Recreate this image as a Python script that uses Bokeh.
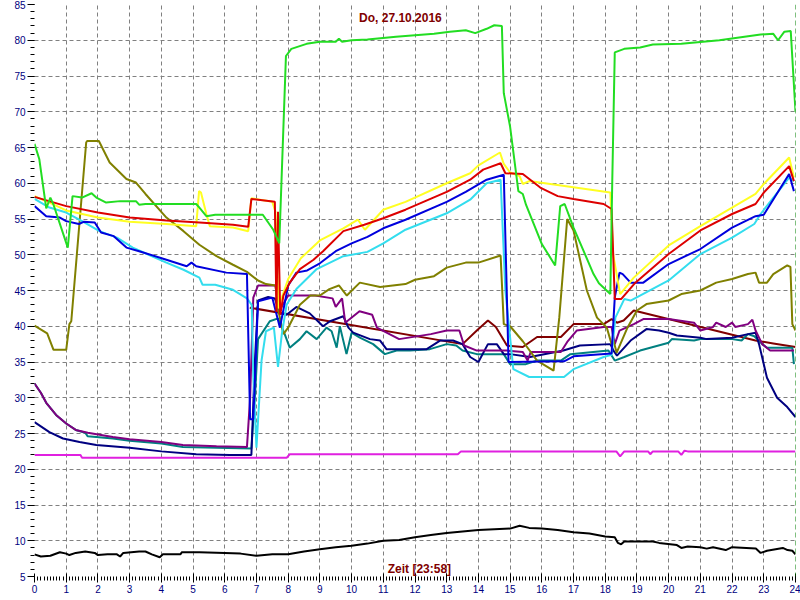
import math
from bokeh.plotting import figure
from bokeh.models import FixedTicker, Label, Span
from bokeh.embed import file_html
from bokeh.resources import INLINE

# ---------------- data (hours, degC) ----------------
title_text = "Do, 27.10.2016"
xlabel_text = "Zeit [23:58]"
ylabel_text = "°C"
x_ticks = list(range(0, 25))
y_ticks = list(range(5, 90, 5))

green_x = [0, 0.15, 0.37, 0.5, 0.6, 1.05, 1.2, 1.5, 1.8, 1.95, 2.26, 2.7, 3.2, 3.3, 3.5, 5.1, 5.2, 5.42, 5.7, 6.5, 7.2, 7.53, 7.72, 7.93, 8.1, 8.58, 9.0, 9.5, 9.6, 9.7, 10.0, 10.5, 11.4, 12.0, 12.6, 13.1, 13.6, 13.9, 14.26, 14.5, 14.74, 14.8, 15.0, 15.26, 15.4, 15.5, 16.0, 16.42, 16.58, 16.72, 17.0, 17.63, 17.8, 18.16, 18.22, 18.3, 18.6, 19.1, 19.5, 20.4, 21.6, 22.9, 23.3, 23.45, 23.65, 23.85, 24.0]
green_y = [65.5, 63.4, 56.5, 58.0, 57.0, 51.0, 58.2, 58.0, 58.6, 58.0, 57.3, 57.5, 57.5, 57.0, 57.1, 57.1, 56.6, 55.4, 55.6, 55.6, 55.6, 53.5, 51.6, 77.8, 78.8, 79.5, 79.8, 79.8, 80.2, 79.8, 80.0, 80.1, 80.5, 80.7, 80.9, 81.2, 81.4, 81.0, 81.6, 82.1, 82.0, 72.6, 67.9, 58.9, 58.5, 57.0, 51.5, 48.5, 56.8, 57.1, 53.8, 47.3, 46.0, 44.5, 60.0, 78.3, 78.8, 79.0, 79.4, 79.5, 80.0, 80.8, 80.9, 80.0, 81.2, 81.3, 70.0]

yellow_x = [0, 0.47, 1, 2, 3, 4.16, 5.1, 5.19, 5.25, 5.42, 5.53, 6.26, 6.74, 6.84, 7.5, 7.6, 7.7, 7.8, 8.0, 8.4, 9.0, 9.74, 10.2, 10.42, 11.0, 11.7, 13.0, 13.74, 14.0, 14.68, 14.8, 15.0, 15.3, 15.4, 15.6, 18.16, 18.25, 18.47, 18.9, 20.0, 21.0, 22.0, 22.74, 23.0, 23.8, 23.95]
yellow_y = [58.2, 57.3, 56.2, 55.2, 54.6, 54.3, 54.0, 58.9, 58.7, 55.7, 54.0, 53.8, 53.3, 57.9, 57.4, 56.0, 42.5, 44.0, 46.6, 49.5, 52.0, 53.7, 54.9, 53.5, 56.3, 57.4, 60.0, 61.4, 62.5, 64.3, 62.7, 61.5, 61.0, 59.9, 60.3, 58.7, 50.0, 44.5, 46.8, 51.3, 54.0, 56.6, 58.5, 59.9, 63.6, 60.8]

red_x = [0, 1, 2, 3, 4.16, 5.2, 6.26, 6.74, 6.84, 7.58, 7.63, 7.68, 7.75, 7.85, 8.05, 8.37, 8.8, 9.1, 9.74, 10.4, 11.0, 11.7, 13.0, 13.74, 14.15, 14.7, 14.85, 15.4, 15.95, 16.5, 17.0, 17.95, 18.2, 18.3, 18.5, 18.95, 20.0, 21.0, 22.0, 22.74, 23.0, 23.8, 23.95]
red_y = [58.1, 56.8, 55.9, 55.2, 54.8, 54.5, 54.2, 53.9, 57.8, 57.4, 42.0, 56.0, 41.6, 44.3, 46.1, 48.0, 49.3, 50.5, 53.3, 54.2, 55.1, 56.3, 58.8, 60.5, 61.9, 62.8, 61.4, 61.3, 59.4, 58.2, 57.8, 57.1, 56.4, 43.8, 43.8, 46.1, 50.1, 53.4, 55.7, 57.1, 58.7, 62.4, 60.3]

blue_x = [0, 0.37, 0.8, 1.0, 1.4, 1.55, 1.9, 2.1, 2.5, 2.9, 3.3, 4.16, 4.8, 4.95, 5.1, 6.05, 6.7, 6.8, 6.9, 7.05, 7.5, 7.74, 8.0, 8.26, 8.6, 9.0, 9.5, 10.0, 10.5, 11.0, 11.7, 13.0, 13.6, 14.26, 14.8, 14.95, 16.7, 17.0, 18.2, 18.3, 18.45, 18.55, 18.8, 19.2, 20.0, 21.0, 22.0, 22.74, 23.0, 23.8, 23.95]
blue_y = [56.8, 55.4, 55.2, 54.7, 54.3, 54.6, 54.5, 53.1, 52.6, 51.0, 50.5, 49.3, 48.4, 48.9, 48.4, 47.5, 47.3, 27.0, 27.0, 43.5, 44.0, 39.8, 45.7, 47.5, 47.8, 48.8, 50.5, 51.6, 52.5, 53.7, 54.9, 57.4, 58.8, 60.5, 61.2, 35.0, 35.1, 35.8, 36.2, 44.0, 47.5, 47.3, 46.1, 46.1, 48.7, 50.8, 53.8, 55.4, 55.6, 61.3, 58.9]

cyan_x = [0, 0.47, 1, 1.5, 2.05, 2.6, 3.1, 3.6, 4.16, 4.7, 5.2, 5.3, 5.7, 6.26, 6.7, 6.85, 6.9, 7.0, 7.16, 7.3, 7.55, 7.68, 7.8, 7.95, 8.26, 8.58, 8.9, 9.74, 10.5, 11.0, 11.7, 13.0, 13.74, 14.26, 14.7, 14.85, 15.1, 15.6, 16.7, 17.0, 17.95, 18.2, 18.32, 18.6, 18.8, 20.0, 21.0, 22.0, 22.7, 22.9, 23.8, 23.95]
cyan_y = [57.8, 56.6, 55.9, 54.7, 53.3, 52.4, 51.0, 50.0, 48.9, 47.9, 46.8, 45.8, 45.8, 45.1, 43.9, 43.0, 33.0, 23.0, 35.2, 39.3, 39.8, 34.3, 38.9, 43.0, 45.2, 46.6, 48.0, 49.8, 50.4, 51.6, 53.5, 55.8, 57.7, 60.0, 60.5, 45.0, 34.0, 32.9, 32.9, 34.0, 35.7, 36.0, 41.2, 43.8, 43.6, 46.4, 50.1, 52.4, 54.3, 55.7, 60.8, 60.3]

olive_x = [0, 0.4, 0.6, 1.0, 1.1, 1.16, 1.63, 1.66, 2.03, 2.37, 2.9, 3.2, 3.5, 4.16, 4.7, 5.2, 5.74, 6.26, 6.7, 7.05, 7.3, 7.6, 7.7, 7.85, 8.0, 8.37, 8.7, 9.0, 9.3, 9.6, 9.85, 10.26, 10.9, 11.7, 12.0, 12.6, 13.0, 13.6, 14.0, 14.7, 14.8, 15.0, 15.4, 15.85, 16.37, 16.55, 16.8, 17.0, 17.42, 17.74, 18.05, 18.2, 18.26, 18.36, 18.7, 19.0, 19.3, 20.0, 20.4, 21.0, 21.5, 22.0, 22.5, 22.74, 22.85, 23.1, 23.3, 23.74, 23.84, 23.9, 24.0]
olive_y = [40.1, 39.0, 36.7, 36.7, 40.3, 40.7, 65.7, 65.9, 65.9, 62.9, 60.6, 60.1, 58.5, 55.2, 53.3, 51.4, 49.8, 48.6, 47.6, 46.4, 45.9, 45.7, 42.0, 38.9, 39.8, 43.0, 44.3, 44.3, 45.2, 45.7, 44.3, 46.1, 45.5, 45.9, 46.5, 47.0, 48.2, 48.9, 48.9, 49.9, 40.3, 40.0, 37.9, 35.2, 33.8, 41.2, 55.0, 53.4, 45.0, 41.2, 39.8, 37.5, 38.0, 36.3, 39.8, 42.2, 43.1, 43.6, 44.5, 45.0, 46.1, 46.6, 47.3, 47.5, 46.1, 46.1, 47.3, 48.5, 48.3, 40.3, 39.4]

purple_x = [0, 0.2, 0.37, 0.68, 1.0, 1.3, 1.68, 2.47, 3.0, 4.0, 4.68, 5.74, 6.7, 6.8, 6.9, 7.05, 7.6, 7.7, 8.0, 8.85, 9.4, 9.5, 9.7, 9.8, 10.25, 10.65, 10.8, 11.5, 12.5, 13.0, 13.4, 13.55, 13.95, 14.9, 15.4, 15.55, 15.65, 16.6, 16.8, 17.1, 17.95, 18.2, 18.3, 18.45, 18.9, 19.2, 20.0, 20.8, 21.0, 21.4, 21.5, 21.8, 22.0, 22.1, 22.5, 22.64, 22.74, 22.95, 23.2, 23.95]
purple_y = [32.0, 30.7, 29.3, 27.6, 26.4, 25.5, 25.1, 24.5, 24.2, 23.8, 23.4, 23.2, 23.1, 30.0, 44.0, 45.7, 45.7, 42.0, 44.3, 44.3, 43.9, 42.7, 43.9, 40.5, 42.1, 41.6, 39.8, 38.2, 38.9, 39.4, 39.4, 37.3, 36.6, 36.6, 36.4, 35.2, 36.4, 36.4, 37.8, 39.4, 39.9, 39.9, 37.5, 39.4, 40.3, 41.0, 41.0, 40.5, 39.4, 39.9, 40.5, 39.9, 40.5, 39.9, 40.3, 40.9, 39.4, 37.5, 36.6, 36.6]

teal_x = [0, 0.2, 0.37, 0.68, 1.0, 1.3, 1.6, 1.68, 2.47, 3.0, 4.0, 4.68, 5.74, 6.84, 6.95, 7.05, 7.42, 7.68, 7.89, 8.05, 8.37, 8.58, 8.9, 9.21, 9.37, 9.53, 9.63, 9.84, 10.0, 10.26, 10.68, 11.05, 11.42, 11.84, 12.47, 13.0, 13.3, 13.5, 13.95, 14.8, 15.0, 15.5, 15.85, 16.6, 16.9, 18.1, 18.3, 18.6, 19.1, 20.0, 20.1, 20.8, 21.0, 22.0, 22.3, 22.5, 22.7, 22.95, 23.1, 23.9, 23.95]
teal_y = [32.0, 30.7, 29.3, 27.6, 26.4, 25.5, 25.1, 24.6, 24.3, 24.0, 23.6, 23.1, 23.0, 22.9, 30.0, 38.2, 40.7, 41.1, 38.9, 37.0, 38.2, 39.3, 38.2, 39.8, 39.3, 37.0, 40.0, 36.1, 39.1, 38.4, 37.5, 36.1, 36.6, 36.6, 36.8, 37.5, 37.3, 36.6, 36.1, 36.1, 34.7, 34.7, 35.2, 35.2, 36.1, 36.6, 35.2, 35.7, 36.6, 37.7, 38.2, 38.0, 38.2, 38.2, 38.0, 38.9, 38.6, 37.5, 37.0, 37.0, 34.7]

navy_x = [0, 0.47, 0.9, 1.42, 1.95, 3.0, 4.0, 5.1, 6.16, 6.84, 6.95, 7.05, 7.37, 7.58, 7.74, 7.95, 8.26, 8.68, 9.1, 9.32, 9.74, 9.9, 10.05, 10.58, 10.9, 11.1, 12.37, 12.79, 13.2, 13.5, 13.74, 14.0, 14.3, 14.58, 14.8, 15.0, 15.63, 16.68, 17.2, 18.16, 18.26, 18.37, 18.8, 19.3, 19.7, 20.0, 20.26, 21.0, 21.2, 22.0, 22.5, 22.74, 22.85, 23.1, 23.42, 23.74, 24.0]
navy_y = [26.6, 25.2, 24.3, 23.8, 23.4, 23.0, 22.5, 22.1, 22.0, 22.0, 35.0, 43.6, 44.1, 43.9, 41.8, 41.6, 42.7, 41.8, 40.0, 40.7, 41.4, 39.8, 39.1, 38.2, 38.0, 36.8, 36.8, 38.0, 38.0, 37.5, 35.7, 35.0, 37.5, 37.5, 36.1, 36.1, 35.7, 36.6, 37.3, 37.5, 36.6, 35.9, 38.0, 39.6, 39.4, 39.1, 38.7, 38.4, 38.2, 38.4, 38.9, 39.1, 37.5, 32.8, 30.0, 28.7, 27.3]

maroon_x = [6.79, 13.5, 13.95, 14.3, 14.55, 14.9, 15.4, 15.85, 16.6, 17.0, 17.95, 18.2, 18.37, 18.58, 18.9, 22.74, 23.3, 24.0]
maroon_y = [42.6, 37.5, 39.4, 40.8, 39.9, 37.3, 37.1, 38.5, 38.5, 40.3, 40.3, 41.0, 40.5, 40.8, 42.2, 38.0, 37.6, 37.1]

magenta_x = [0, 1.45, 1.5, 7.95, 8.05, 13.35, 13.45, 18.35, 18.47, 18.6, 19.35, 19.42, 19.5, 20.3, 20.4, 20.5, 20.6, 24.0]
magenta_y = [22.0, 22.0, 21.6, 21.6, 22.1, 22.1, 22.5, 22.5, 21.8, 22.5, 22.5, 22.1, 22.5, 22.5, 22.0, 22.6, 22.5, 22.5]

black_x = [0, 0.2, 0.5, 0.8, 1.0, 1.1, 1.3, 1.6, 1.9, 2.0, 2.3, 2.6, 2.7, 2.8, 3.3, 3.5, 3.7, 3.95, 4.05, 4.6, 4.65, 5.2, 6.0, 6.5, 7.0, 7.5, 8.0, 8.5, 9.0, 9.5, 10.0, 10.5, 11.0, 11.5, 12.0, 12.5, 13.0, 13.5, 14.0, 14.5, 15.0, 15.3, 15.6, 16.0, 16.5, 17.0, 17.5, 18.0, 18.3, 18.4, 18.5, 18.6, 19.5, 19.7, 20.26, 20.4, 20.6, 21.0, 21.2, 21.4, 21.8, 22.0, 22.75, 22.9, 23.1, 23.6, 23.75, 23.9, 24.0]
black_y = [8.1, 7.8, 7.9, 8.4, 8.2, 8.0, 8.3, 8.5, 8.3, 8.0, 8.1, 8.1, 7.8, 8.3, 8.5, 8.5, 8.1, 7.7, 8.1, 8.1, 8.4, 8.4, 8.3, 8.2, 7.9, 8.1, 8.1, 8.5, 8.8, 9.1, 9.3, 9.6, 10.0, 10.1, 10.5, 10.8, 11.1, 11.3, 11.5, 11.6, 11.7, 12.1, 11.8, 11.7, 11.5, 11.2, 11.0, 10.6, 10.5, 9.7, 9.5, 9.9, 9.9, 9.7, 9.4, 9.0, 9.2, 9.1, 8.9, 9.1, 8.7, 9.1, 8.9, 8.3, 8.6, 9.0, 8.7, 8.6, 8.1]

series = [
    (black_x, black_y, "#000000"),
    (magenta_x, magenta_y, "#E020E0"),
    (maroon_x, maroon_y, "#800000"),
    (teal_x, teal_y, "#008080"),
    (navy_x, navy_y, "#000080"),
    (purple_x, purple_y, "#800080"),
    (olive_x, olive_y, "#808000"),
    (cyan_x, cyan_y, "#33DDEE"),
    (blue_x, blue_y, "#0000DD"),
    (yellow_x, yellow_y, "#FFFF22"),
    (red_x, red_y, "#DD0000"),
    (green_x, green_y, "#22DD22"),
]

# ---------------- figure ----------------
p = figure(width=800, height=600, x_range=(0, 24), y_range=(5, 85),
           output_backend="svg", toolbar_location=None,
           min_border_left=34, min_border_right=5, min_border_top=4, min_border_bottom=24)
p.background_fill_color = "white"
p.border_fill_color = "white"
p.outline_line_color = None

p.xaxis.ticker = FixedTicker(ticks=x_ticks, minor_ticks=[i / 10 for i in range(0, 241)])
p.yaxis.ticker = FixedTicker(ticks=y_ticks, minor_ticks=list(range(5, 86)))
for ax in (p.xaxis, p.yaxis):
    ax.axis_line_color = None
    ax.major_tick_line_color = "black"
    ax.minor_tick_line_color = "black"
    ax.major_label_text_color = "#000080"
    ax.major_label_text_font = "Liberation Sans"
    ax.major_label_text_font_size = "10px"
    ax.major_label_standoff = 2
p.xaxis.major_tick_in = 3
p.xaxis.major_tick_out = 6
p.xaxis.minor_tick_in = 0
p.xaxis.minor_tick_out = 4
p.yaxis.major_tick_in = 0
p.yaxis.major_tick_out = 7
p.yaxis.minor_tick_in = 0
p.yaxis.minor_tick_out = 4

p.xgrid.ticker = FixedTicker(ticks=x_ticks[1:-1])
p.ygrid.ticker = FixedTicker(ticks=y_ticks[1:-1])
for g in (p.xgrid, p.ygrid):
    g.grid_line_color = "#808080"
    g.grid_line_dash = "4 3"
    g.grid_line_width = 1

for xs, ys, c in series:
    p.line(xs, ys, line_color=c, line_width=2)

p.add_layout(Span(location=24, dimension="height", line_color="#008000",
                  line_dash="5 3", line_width=1))

p.add_layout(Label(x=11.54, y=83.1, text=title_text, text_color="#800000",
                   text_font="Liberation Sans", text_font_style="bold",
                   text_font_size="12px", text_align="center", text_baseline="middle"))
p.add_layout(Label(x=12.14, y=6.0, text=xlabel_text, text_color="#800000",
                   text_font="Liberation Sans", text_font_style="bold",
                   text_font_size="12px", text_align="center", text_baseline="middle"))
p.add_layout(Label(x=-0.72, y=45, text=ylabel_text, text_color="#800000",
                   text_font="Liberation Sans", text_font_size="11px",
                   angle=math.pi / 2, text_align="center", text_baseline="middle"))

open("out.html", "w").write(file_html(p, INLINE))
